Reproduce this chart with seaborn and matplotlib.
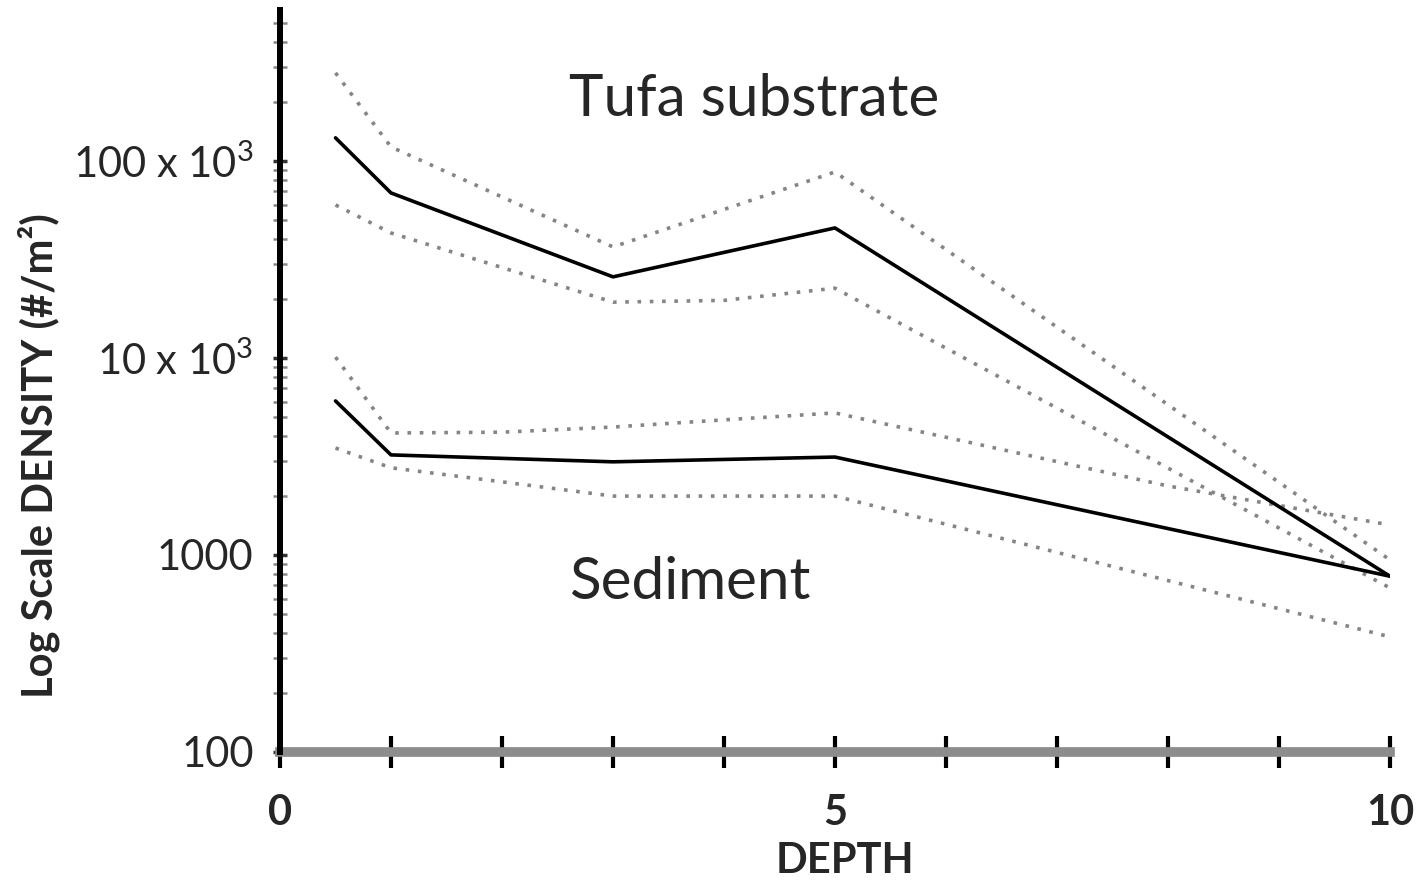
import matplotlib
matplotlib.use('Agg')
import pandas as pd
import seaborn as sns
import matplotlib.pyplot as plt

# values (density in #/m2), depth in m
tufa_depth = [0.5, 1, 3, 5, 10]
tufa_mean = [131000, 68800, 25800, 45700, 780]
tufa_hi_depth = [0.5, 1, 3, 5, 10]
tufa_hi = [280000, 117800, 36600, 87900, 944]
tufa_lo_depth = [0.5, 1, 3, 4, 5, 10]
tufa_lo = [59800, 43100, 19200, 19600, 22600, 680]

sed_depth = [0.5, 1, 3, 5, 10]
sed_mean = [6050, 3220, 2970, 3140, 780]
sed_hi_depth = [0.5, 1, 2, 3, 4, 5, 8, 10]
sed_hi = [10100, 4160, 4200, 4460, 4850, 5260, 2240, 1420]
sed_lo_depth = [0.5, 1, 2, 3, 5, 10]
sed_lo = [3490, 2770, 2350, 1990, 1990, 384]

ytick_vals = [100, 1000, 10000, 100000]
ytick_labels = ['100', '1000', '10 x $10^3$', '100 x $10^3$']
xtick_vals = list(range(11))
xtick_labels = ['0', '', '', '', '', '5', '', '', '', '', '10']

sns.set_style('white')
plt.rcParams['font.family'] = ['Lato', 'DejaVu Sans']
plt.rcParams['mathtext.fontset'] = 'custom'
plt.rcParams['mathtext.rm'] = 'Lato'
plt.rcParams['mathtext.default'] = 'regular'

series = [
    ('tufa_mean', tufa_depth, tufa_mean, 'mean'),
    ('tufa_hi', tufa_hi_depth, tufa_hi, 'ci'),
    ('tufa_lo', tufa_lo_depth, tufa_lo, 'ci'),
    ('sed_mean', sed_depth, sed_mean, 'mean'),
    ('sed_hi', sed_hi_depth, sed_hi, 'ci'),
    ('sed_lo', sed_lo_depth, sed_lo, 'ci'),
]
rows = []
for name, xs, ys, kind in series:
    for x, y in zip(xs, ys):
        rows.append({'line': name, 'depth': x, 'density': y, 'kind': kind})
df = pd.DataFrame(rows)

fig = plt.figure(figsize=(14.25, 8.88), dpi=100)
ax = fig.add_axes([0.1965, 0.1532, 0.7789, 0.8356])

for name, xs, ys, kind in series:
    d = df[df.line == name]
    if kind == 'mean':
        sns.lineplot(data=d, x='depth', y='density', ax=ax, color='black',
                     lw=2.6, estimator=None, sort=False, zorder=3)
    else:
        sns.lineplot(data=d, x='depth', y='density', ax=ax, color='#858585',
                     lw=2.6, linestyle=(0, (1, 2.4)), estimator=None, sort=False, zorder=2)

ax.set_yscale('log')
ax.set_xlim(0, 10)
ax.set_ylim(100, 10 ** (2 + 742 / 197))

ax.set_yticks(ytick_vals, ytick_labels)
ax.set_xticks(xtick_vals, xtick_labels)
ax.tick_params(axis='x', bottom=True, direction='inout', length=23, width=3, color='black',
               pad=19, labelsize=30)
for lab in ax.get_xticklabels():
    lab.set_fontweight('bold')
ax.tick_params(axis='y', which='major', left=True, direction='inout', length=10, width=2.5,
               color='#333333', pad=14, labelsize=30)
ax.tick_params(axis='y', which='minor', left=True, direction='inout', length=10, width=1.8,
               color='#888888')

ax.spines['top'].set_visible(False)
ax.spines['right'].set_visible(False)
ax.spines['left'].set_linewidth(4.3)
ax.spines['left'].set_color('black')
ax.spines['bottom'].set_linewidth(7)
ax.spines['bottom'].set_color('#8c8c8c')
ax.spines['bottom'].set_zorder(1)

ax.set_xlabel('DEPTH', fontsize=30, fontweight='bold')
ax.xaxis.set_label_coords(0.509, -0.122)
ax.set_ylabel('Log Scale DENSITY (#/m²)', fontsize=30, fontweight='bold')
ax.yaxis.set_label_coords(-0.198, 0.40)

ax.text(2.6, 2.04e5, 'Tufa substrate', fontsize=42, va='center')
ax.text(2.6, 721, 'Sediment', fontsize=42, va='center')

fig.savefig('out.png', dpi=100)
